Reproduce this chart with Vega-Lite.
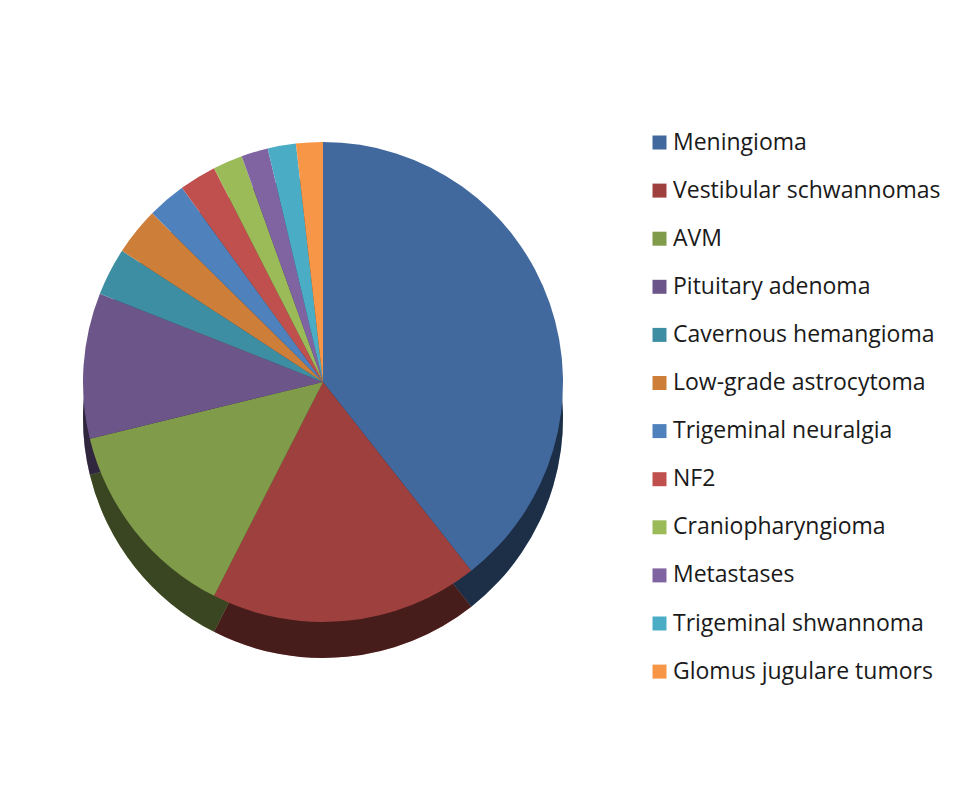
{
  "$schema": "https://vega.github.io/schema/vega-lite/v6.json",
  "width": 638,
  "height": 750,
  "autosize": {"type": "none"},
  "padding": {"left": 4, "top": 7, "right": 315, "bottom": 41},
  "background": "white",
  "config": {"view": {"stroke": null}},
  "data": {
    "values": [
      {"idx": 1, "tumor": "Meningioma", "pct": 39.4},
      {"idx": 2, "tumor": "Vestibular schwannomas", "pct": 18.1},
      {"idx": 3, "tumor": "AVM", "pct": 13.7},
      {"idx": 4, "tumor": "Pituitary adenoma", "pct": 9.8},
      {"idx": 5, "tumor": "Cavernous hemangioma", "pct": 3.2},
      {"idx": 6, "tumor": "Low-grade astrocytoma", "pct": 3.2},
      {"idx": 7, "tumor": "Trigeminal neuralgia", "pct": 2.6},
      {"idx": 8, "tumor": "NF2", "pct": 2.5},
      {"idx": 9, "tumor": "Craniopharyngioma", "pct": 2.0},
      {"idx": 10, "tumor": "Metastases", "pct": 1.8},
      {"idx": 11, "tumor": "Trigeminal shwannoma", "pct": 1.9},
      {"idx": 12, "tumor": "Glomus jugulare tumors", "pct": 1.8}
    ]
  },
  "encoding": {
    "theta": {"field": "pct", "type": "quantitative", "stack": true},
    "order": {"field": "idx", "type": "quantitative"},
    "color": {
      "field": "tumor",
      "type": "nominal",
      "sort": null,
      "scale": {
        "domain": ["Meningioma", "Vestibular schwannomas", "AVM", "Pituitary adenoma", "Cavernous hemangioma", "Low-grade astrocytoma", "Trigeminal neuralgia", "NF2", "Craniopharyngioma", "Metastases", "Trigeminal shwannoma", "Glomus jugulare tumors"],
        "range": ["#42699E", "#9E403D", "#809B49", "#6C5689", "#3D8EA3", "#CD7E39", "#4F81BD", "#C0504D", "#9BBB59", "#8064A2", "#4BACC6", "#F79646"]
      },
      "legend": {
        "orient": "none",
        "legendX": 644,
        "legendY": 124,
        "title": null,
        "padding": 0,
        "symbolType": "square",
        "symbolSize": 196,
        "symbolStrokeWidth": 0,
        "labelFont": "Open Sans",
        "labelFontSize": 23,
        "labelColor": "#1a1a1a",
        "labelLimit": 400,
        "labelOffset": 2,
        "rowPadding": 24.1
      }
    }
  },
  "layer": [
    {"mark": {"type": "arc", "outerRadius": 240, "yOffset": 36}},
    {
      "mark": {"type": "arc", "outerRadius": 240, "yOffset": 36, "opacity": 0.55},
      "encoding": {"color": {"value": "black"}}
    },
    {"mark": {"type": "arc", "outerRadius": 240}}
  ]
}
